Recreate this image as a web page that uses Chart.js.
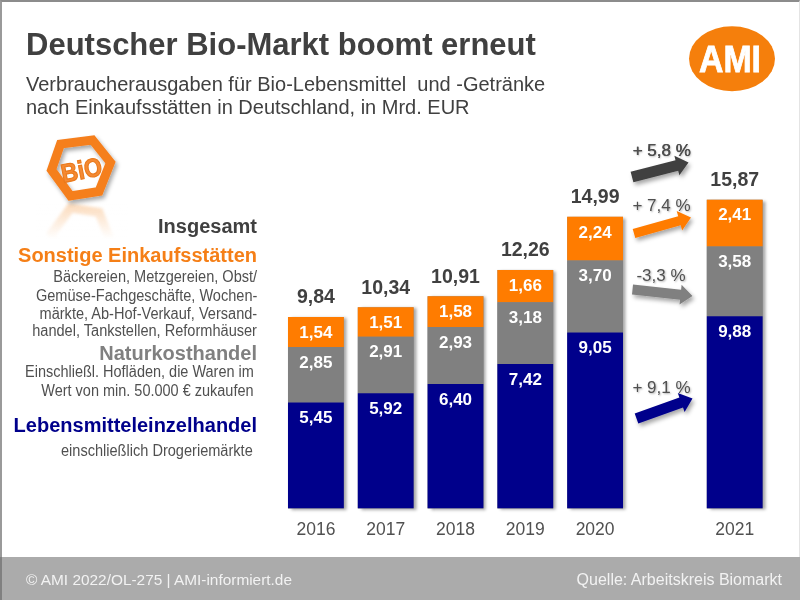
<!DOCTYPE html>
<html lang="de"><head><meta charset="utf-8">
<script src="https://cdn.jsdelivr.net/npm/chart.js@4"></script>
<style>
html,body{margin:0;padding:0;background:#fff}
#stage{position:relative;width:800px;height:600px;overflow:hidden;background:#fff;font-family:"Liberation Sans",Arial,sans-serif;color:#404040}
#frame{position:absolute;left:0;top:0;width:800px;height:557px;box-sizing:border-box;border-top:2px solid #8c8c8c;border-left:2px solid #9a9a9a;border-right:1px solid #e4e4e4}
canvas{position:absolute;left:0;top:0}
#deco{position:absolute;left:0;top:0}
.t{position:absolute;white-space:nowrap;line-height:1}
.r{right:543px}
.s{font-size:16px;color:#505050;transform:scaleX(.91);transform-origin:right center}
#footer{position:absolute;left:0;top:557px;width:800px;height:43px;box-sizing:border-box;background:#ababab;border-left:2px solid #808080}
.g{transform:translateX(-50%);font-size:17px;color:#505050;text-shadow:1px 1px 2px rgba(0,0,0,.3)}
</style></head><body>
<div id="stage">
<div id="frame"></div>
<canvas id="c" width="800" height="600"></canvas>
<svg id="deco" width="800" height="600" viewBox="0 0 800 600">
<defs>
<filter id="sh" x="-30%" y="-60%" width="170%" height="240%"><feDropShadow dx="2" dy="3" stdDeviation="2" flood-color="#000" flood-opacity=".35"/></filter>
<filter id="bl"><feGaussianBlur stdDeviation="1.5"/></filter>
<linearGradient id="fade" x1="0" y1="0" x2="0" y2="1"><stop offset="0" stop-color="#fff" stop-opacity=".25"/><stop offset=".5" stop-color="#fff" stop-opacity="1"/><stop offset="1" stop-color="#fff" stop-opacity="1"/></linearGradient>
</defs>
<ellipse cx="732" cy="58.7" rx="43" ry="32.5" fill="#f57f0c"/>
<text x="730" y="71.5" text-anchor="middle" font-family="Liberation Sans" font-weight="700" font-size="36" textLength="62" lengthAdjust="spacingAndGlyphs" fill="#fff" stroke="#fff" stroke-width=".8">AMI</text>
<g transform="translate(0,404) scale(1,-1)" opacity=".55" filter="url(#bl)">
<polygon points="92.5,140 110.5,162.5 99,191.5 70.5,196 51.5,170 60.5,144" fill="none" stroke="#f6a65a" stroke-width="9"/>
</g>
<rect x="36" y="203" width="92" height="72" fill="url(#fade)"/>
<polygon points="92.5,140 110.5,162.5 99,191.5 70.5,196 51.5,170 60.5,144" fill="none" stroke="#f57f1e" stroke-width="9" stroke-linejoin="miter" filter="url(#sh)"/>
<text x="81.5" y="179" text-anchor="middle" transform="rotate(-11 81.5 170)" font-family="Liberation Sans" font-weight="700" font-size="26" textLength="41" lengthAdjust="spacingAndGlyphs" fill="#f58a33" stroke="#ea7a1c" stroke-width="1.2">BiO</text>
<g id="arrows"></g>
</svg>
<div class="t" style="left:26px;top:29px;font-size:31px;font-weight:700;">Deutscher Bio-Markt boomt erneut</div>
<div class="t" style="left:26px;top:74px;font-size:20px;">Verbraucherausgaben für Bio-Lebensmittel&nbsp; und -Getränke</div>
<div class="t" style="left:26px;top:97px;font-size:20px;">nach Einkaufsstätten in Deutschland, in Mrd. EUR</div>
<div class="t r" style="top:216px;font-size:20px;font-weight:700;">Insgesamt</div>
<div class="t r" style="top:245px;font-size:20px;font-weight:700;color:#f57f17;">Sonstige Einkaufsstätten</div>
<div class="t r s" style="top:269px;">Bäckereien, Metzgereien, Obst/</div>
<div class="t r s" style="top:288px;">Gemüse-Fachgeschäfte, Wochen-</div>
<div class="t r s" style="top:306px;">märkte, Ab-Hof-Verkauf, Versand-</div>
<div class="t r s" style="top:323px;">handel, Tankstellen, Reformhäuser</div>
<div class="t r" style="top:343px;font-size:20px;font-weight:700;color:#808080;">Naturkosthandel</div>
<div class="t s" style="right:546px;top:364px;transform:scaleX(.905)">Einschließl. Hofläden, die Waren im</div>
<div class="t s" style="right:546px;top:383px;transform:scaleX(.905)">Wert von min. 50.000 € zukaufen</div>
<div class="t r" style="top:415px;font-size:20px;font-weight:700;color:#00008b;">Lebensmitteleinzelhandel</div>
<div class="t s" style="right:547px;top:443px;">einschließlich Drogeriemärkte</div>
<div id="growth"></div>
<div id="footer">
<div class="t" style="left:24px;top:15px;font-size:15.4px;color:#f2f2f2">© AMI 2022/OL-275 | AMI-informiert.de</div>
<div class="t" style="right:18px;top:15px;font-size:16px;color:#f2f2f2">Quelle: Arbeitskreis Biomarkt</div>
</div>
</div>
<script>
const categories = ["2016","2017","2018","2019","2020","","2021"];
const lebensmittel = [5.45,5.92,6.40,7.42,9.05,null,9.88];
const naturkost = [2.85,2.91,2.93,3.18,3.70,null,3.58];
const sonstige = [1.54,1.51,1.58,1.66,2.24,null,2.41];
const totals = [9.84,10.34,10.91,12.26,14.99,null,15.87];
const growthLabels = ["+ 5,8 %","+ 7,4 %","-3,3 %","+ 9,1 %"];
const growthColors = ["#404040","#ff7c00","#808080","#00008b"];

const fmt = v => v.toFixed(2).replace(".", ",");

// decorative change arrows between the 2020 and 2021 columns
const arrowGeom = [
  {x0:632,y0:177,x1:688.5,y1:162.5,w:11,hw:20,hl:12,lx:661.5,ly:150},
  {x0:634,y0:233.5,x1:691,y1:217.5,w:9.5,hw:20,hl:12,lx:661.5,ly:205},
  {x0:632.5,y0:289.5,x1:692.5,y1:296,w:10,hw:20,hl:12,lx:661,ly:275},
  {x0:636.5,y0:418.5,x1:692.5,y1:398.5,w:10.5,hw:20,hl:12,lx:661.5,ly:387}
];
const svgNS = "http://www.w3.org/2000/svg";
arrowGeom.forEach((a,i)=>{
  const dx=a.x1-a.x0, dy=a.y1-a.y0, L=Math.hypot(dx,dy), ux=dx/L, uy=dy/L, nx=-uy, ny=ux;
  const bx=a.x1-ux*a.hl, by=a.y1-uy*a.hl;
  const p=[[a.x0+nx*a.w/2,a.y0+ny*a.w/2],[bx+nx*a.w/2,by+ny*a.w/2],[bx+nx*a.hw/2,by+ny*a.hw/2],[a.x1,a.y1],
           [bx-nx*a.hw/2,by-ny*a.hw/2],[bx-nx*a.w/2,by-ny*a.w/2],[a.x0-nx*a.w/2,a.y0-ny*a.w/2]];
  const pg=document.createElementNS(svgNS,"polygon");
  pg.setAttribute("points",p.map(q=>q.map(n=>n.toFixed(1)).join(",")).join(" "));
  pg.setAttribute("fill",growthColors[i]);
  pg.setAttribute("filter","url(#sh)");
  document.getElementById("arrows").appendChild(pg);
  const d=document.createElement("div");
  d.className="t g";
  d.textContent=growthLabels[i];
  d.style.left=a.lx+"px";
  d.style.top=(a.ly-8.5)+"px";
  if(i===0) d.style.textShadow="0.5px 0 0 #404040,1px 1px 2px rgba(0,0,0,.3)";
  document.getElementById("growth").appendChild(d);
});

const barShadow = {
  id:"barShadow",
  beforeDatasetsDraw(chart){
    const ctx=chart.ctx, top=chart.getDatasetMeta(2).data, base=chart.getDatasetMeta(0).data;
    ctx.save();
    ctx.shadowColor="rgba(0,0,0,.35)";ctx.shadowBlur=3;ctx.shadowOffsetX=3;ctx.shadowOffsetY=1;
    ctx.fillStyle="#888";
    top.forEach((el,i)=>{
      if(totals[i]==null) return;
      const w=el.width, b=base[i].base;
      ctx.fillRect(el.x-w/2,el.y,w,b-el.y);
    });
    ctx.restore();
  }
};
const labels = {
  id:"labels",
  afterDatasetsDraw(chart){
    const ctx=chart.ctx;
    ctx.save();
    ctx.textAlign="center";ctx.textBaseline="middle";
    ctx.font='bold 17px "Liberation Sans"';ctx.fillStyle="#fff";
    chart.data.datasets.forEach((ds,d)=>{
      chart.getDatasetMeta(d).data.forEach((el,i)=>{
        if(ds.data[i]==null) return;
        ctx.fillText(fmt(ds.data[i]),el.x,el.y+16);
      });
    });
    ctx.font='bold 19.5px "Liberation Sans"';ctx.fillStyle="#404040";
    const top=chart.getDatasetMeta(2).data;
    totals.forEach((t,i)=>{ if(t!=null) ctx.fillText(fmt(t),top[i].x,top[i].y-19); });
    ctx.restore();
  }
};
new Chart(document.getElementById("c"),{
  type:"bar",
  data:{labels:categories,datasets:[
    {label:"Lebensmitteleinzelhandel",data:lebensmittel,backgroundColor:"#00008b"},
    {label:"Naturkosthandel",data:naturkost,backgroundColor:"#808080"},
    {label:"Sonstige Einkaufsstätten",data:sonstige,backgroundColor:"#ff7c00"}
  ]},
  options:{
    responsive:false,animation:false,devicePixelRatio:1,
    layout:{padding:{left:281,right:30.4,top:138.8,bottom:0}},
    datasets:{bar:{barPercentage:.8,categoryPercentage:1,borderWidth:0}},
    plugins:{legend:{display:false},tooltip:{enabled:false},title:{display:false}},
    scales:{
      x:{stacked:true,grid:{display:false},border:{display:false},
         afterFit(s){s.height=91.5},
         ticks:{padding:3,maxRotation:0,autoSkip:false,color:"#505050",font:{family:"Liberation Sans",size:17.5}}},
      y:{stacked:true,display:false,min:0,max:19}
    }
  },
  plugins:[barShadow,labels]
});
</script>
</body></html>
